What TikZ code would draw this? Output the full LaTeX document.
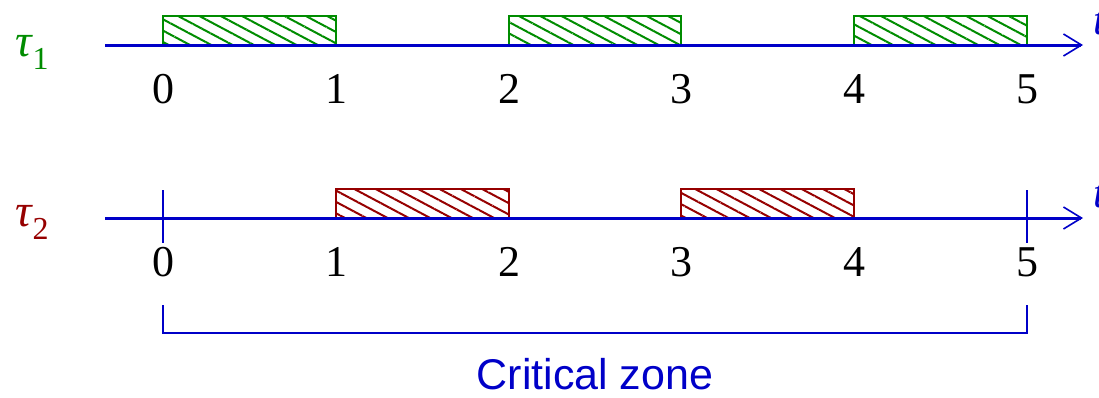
\documentclass[tikz,border=0pt]{standalone}
\usepackage{fontspec}
\setmainfont{Liberation Serif}
\setsansfont{Liberation Sans}
\usetikzlibrary{arrows.meta,patterns.meta}
\definecolor{tgreen}{RGB}{0,140,0}
\definecolor{tred}{RGB}{150,0,0}
\definecolor{tblue}{RGB}{0,0,200}
\newcommand{\tasklab}[1]{{\itshape τ}\kern0.5pt\raisebox{-0.28em}{\fontsize{16}{18}\selectfont #1}}
\tikzset{
  axis/.style={tblue,line width=1.5pt,-{Straight Barb[length=9pt,width=11pt,line width=0.8pt]}},
  taskA/.style={draw=tgreen,line width=1.2pt,pattern={Lines[angle=-28,distance=5pt,line width=1pt]},pattern color=tgreen},
  taskB/.style={draw=tred,line width=1.2pt,pattern={Lines[angle=-28,distance=5pt,line width=1pt]},pattern color=tred},
  num/.style={font=\fontsize{22}{24}\selectfont,inner sep=0pt},
  tau/.style={font=\fontsize{23}{25}\selectfont,inner sep=0pt},
  tlab/.style={font=\fontsize{22}{24}\selectfont,text=tblue,inner sep=0pt,anchor=base west},
  tick/.style={tblue,line width=0.6pt},
  brace/.style={tblue,line width=0.7pt}
}
\begin{document}
\begin{tikzpicture}[x=0.5pt,y=-0.5pt]
\useasboundingbox (0,0) rectangle (1099,397);
% tau 1
\node[tau,text=tgreen] (tau1) at (32,52) {\tasklab{1}};
\foreach \a/\b [count=\i] in {163/336,509/681,854/1027}
  \draw[taskA] (\a,16) rectangle (\b,45);
\coordinate (a1s) at (105,45);
\coordinate (a1e) at (1083,45);
\draw[axis] (a1s) -- (a1e);
\node[tlab] (t1) at (1093,34) {\textit{t}};
\foreach \x/\l in {163/0,336/1,509/2,681/3,854/4,1027/5}
  \node[num] (n1\l) at (\x,89) {\l};
% tau 2
\node[tau,text=tred] (tau2) at (32,222) {\tasklab{2}};
\foreach \a/\b in {336/509,681/854}
  \draw[taskB] (\a,189) rectangle (\b,218);
\coordinate (a2s) at (105,218);
\coordinate (a2e) at (1083,218);
\draw[axis] (a2s) -- (a2e);
\node[tlab] (t2) at (1093,207) {\textit{t}};
\draw[tick] (163,190) -- (163,243);
\draw[tick] (1027,190) -- (1027,243);
\foreach \x/\l in {163/0,336/1,509/2,681/3,854/4,1027/5}
  \node[num] (n2\l) at (\x,262) {\l};
% critical zone bracket
\coordinate (bl) at (163,305);
\coordinate (br) at (1027,305);
\draw[brace] (bl) -- (163,333) -- (1027,333) -- (br);
\node[font=\sffamily\fontsize{21.5}{24}\selectfont,text=tblue,inner sep=0pt] (cz) at (595,374) {Critical zone};
\end{tikzpicture}
\end{document}
